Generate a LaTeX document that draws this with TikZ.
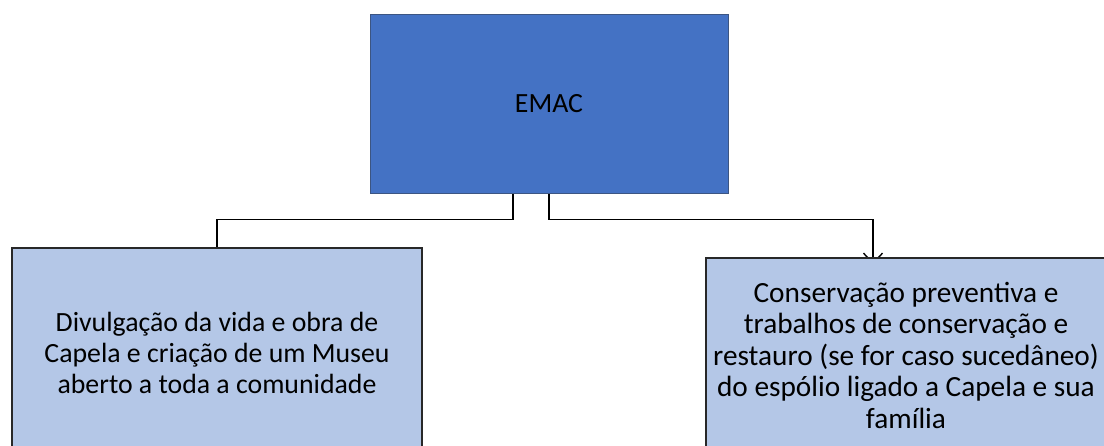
\documentclass[tikz,border=0pt]{standalone}
\usepackage{fontspec}
\setmainfont{Carlito}
\usetikzlibrary{arrows.meta}
\pgfdeclarelayer{back}
\pgfsetlayers{back,main}
\definecolor{topfill}{RGB}{68,114,196}
\definecolor{topline}{RGB}{60,85,130}
\definecolor{subfill}{RGB}{180,199,231}
\definecolor{subline}{RGB}{40,40,40}
\tikzset{
  topbox/.style={rectangle, fill=topfill, draw=topline, line width=0.8pt, minimum width=358pt, minimum height=179pt, inner sep=0pt, font=\fontsize{27.8}{31}\selectfont},
  subbox/.style={rectangle, fill=subfill, draw=subline, line width=1.6pt, inner sep=0pt, align=center, font=\fontsize{27.8}{31}\selectfont},
  conn/.style={draw=black, line width=1.4pt},
}
\begin{document}
\begin{tikzpicture}[x=1pt,y=-1pt]
\useasboundingbox (0,0) rectangle (1104,446);
\clip (0,0) rectangle (1104,446);
\node[topbox] (emac) at (549,103.5) {EMAC};
\node[subbox, minimum width=410pt, minimum height=210pt] (left) at (217,353)
  {Divulgação da vida e obra de\\Capela e criação de um Museu\\aberto a toda a comunidade};
\node[subbox, minimum width=400pt, minimum height=194pt, font=\fontsize{29.3}{31.5}\selectfont] (right) at (906,355)
  {Conservação preventiva e\\trabalhos de conservação e\\restauro (se for caso sucedâneo)\\do espólio ligado a Capela e sua\\família};
\begin{pgfonlayer}{back}
\draw[conn] ([xshift=-36pt]emac.south) -- ++(0,26) -| (left.north);
\draw[conn, -{Straight Barb[length=10pt,width=19pt]}] (emac.south) -- ++(0,26) -| ([xshift=-33pt,yshift=-7pt]right.north);
\end{pgfonlayer}
\end{tikzpicture}
\end{document}
